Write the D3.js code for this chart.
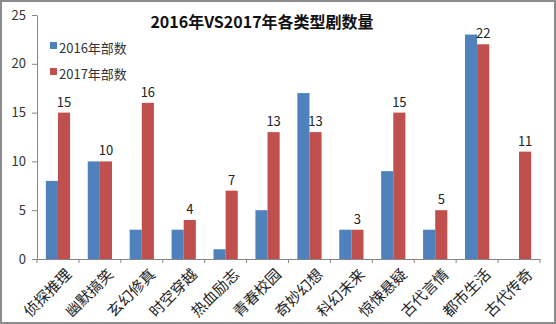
<!DOCTYPE html>
<html>
<head>
<meta charset="utf-8">
<script src="https://cdn.jsdelivr.net/npm/d3@7"></script>
<style>
  body { margin: 0; background: #fff; }
  svg { display: block; }
</style>
</head>
<body>
<div id="chart"></div>
<script>
const categories = ['侦探推理', '幽默搞笑', '玄幻修真', '时空穿越', '热血励志', '青春校园',
    '奇妙幻想', '科幻未来', '惊悚悬疑', '古代言情', '都市生活', '古代传奇'];
const values2016 = [8, 10, 3, 3, 1, 5, 17, 3, 9, 3, 23, 0];
const values2017 = [15, 10, 16, 4, 7, 13, 13, 3, 15, 5, 22, 11];
const seriesNames = ['2016年部数', '2017年部数'];
const yTicks = [0, 5, 10, 15, 20, 25];

const width = 556, height = 324;
const margin = { top: 15, right: 16, bottom: 65, left: 37 };
const colors = ['#4F81BD', '#C0504D'];
const font = '"Noto Sans CJK SC", "Noto Sans", sans-serif';

const svg = d3.select('#chart').append('svg')
    .attr('width', width)
    .attr('height', height);

// outer frame
svg.append('rect')
    .attr('x', 1).attr('y', 1)
    .attr('width', width - 2).attr('height', height - 2)
    .attr('fill', '#fff')
    .attr('stroke', '#8c8c8c')
    .attr('stroke-width', 2);

const x = d3.scaleBand()
    .domain(categories)
    .range([margin.left, width - margin.right]);

const sub = d3.scaleBand()
    .domain([0, 1])
    .range([0, x.bandwidth()])
    .paddingInner(0)
    .paddingOuter(0.73);

const y = d3.scaleLinear()
    .domain([0, 25])
    .range([height - margin.bottom, margin.top]);

// y axis
const yAxis = svg.append('g')
    .attr('transform', `translate(${margin.left},0)`)
    .call(d3.axisLeft(y).tickValues(yTicks).tickSize(5).tickSizeOuter(0).tickPadding(6));
yAxis.selectAll('line, path').attr('stroke', '#868686');
yAxis.selectAll('text')
    .attr('font-family', font)
    .attr('font-size', 13)
    .attr('fill', '#333');

// x axis
const xAxis = svg.append('g')
    .attr('transform', `translate(0,${y(0)})`)
    .call(d3.axisBottom(x).tickSize(0).tickFormat(''));
xAxis.select('path').attr('stroke', '#868686');

svg.append('g')
    .selectAll('line')
    .data(d3.range(categories.length + 1))
    .enter()
    .append('line')
    .attr('x1', i => margin.left + i * x.step())
    .attr('x2', i => margin.left + i * x.step())
    .attr('y1', y(0))
    .attr('y2', y(0) + 4)
    .attr('stroke', '#868686');

// bars
const series = [values2016, values2017];
series.forEach((vals, s) => {
    svg.append('g')
        .selectAll('rect')
        .data(vals)
        .enter()
        .append('rect')
        .attr('x', (d, i) => x(categories[i]) + sub(s))
        .attr('y', d => y(d))
        .attr('width', sub.bandwidth())
        .attr('height', d => y(0) - y(d))
        .attr('fill', colors[s]);
});

// labels on the 2017 series
svg.append('g')
    .selectAll('text')
    .data(values2017)
    .enter()
    .append('text')
    .attr('x', (d, i) => x(categories[i]) + sub(1) + sub.bandwidth() / 2)
    .attr('y', d => y(d) - 6)
    .attr('text-anchor', 'middle')
    .attr('font-family', font)
    .attr('font-size', 13)
    .attr('fill', '#222')
    .text(d => d);

// category labels, rotated
svg.append('g')
    .selectAll('text')
    .data(categories)
    .enter()
    .append('text')
    .attr('transform', d => `translate(${x(d) + x.bandwidth() / 2 + 6},${y(0) + 8}) rotate(-45)`)
    .attr('text-anchor', 'end')
    .attr('dy', '0.8em')
    .attr('font-family', '"Noto Sans CJK SC", serif')
    .attr('font-size', 15)
    .attr('fill', '#222')
    .text(d => d);

// title
svg.append('text')
    .attr('x', 262)
    .attr('y', 28)
    .attr('text-anchor', 'middle')
    .attr('font-family', font)
    .attr('font-size', 16)
    .attr('font-weight', 'bold')
    .attr('fill', '#111')
    .text('2016年VS2017年各类型剧数量');

// legend
const legend = svg.append('g');
seriesNames.forEach((name, i) => {
    const ly = 48 + i * 26;
    legend.append('rect')
        .attr('x', 50)
        .attr('y', ly - 6)
        .attr('width', 7)
        .attr('height', 7)
        .attr('fill', colors[i]);
    legend.append('text')
        .attr('x', 59)
        .attr('y', ly)
        .attr('dy', '0.35em')
        .attr('font-family', font)
        .attr('font-size', 13)
        .attr('fill', '#333')
        .text(name);
});
</script>
</body>
</html>
